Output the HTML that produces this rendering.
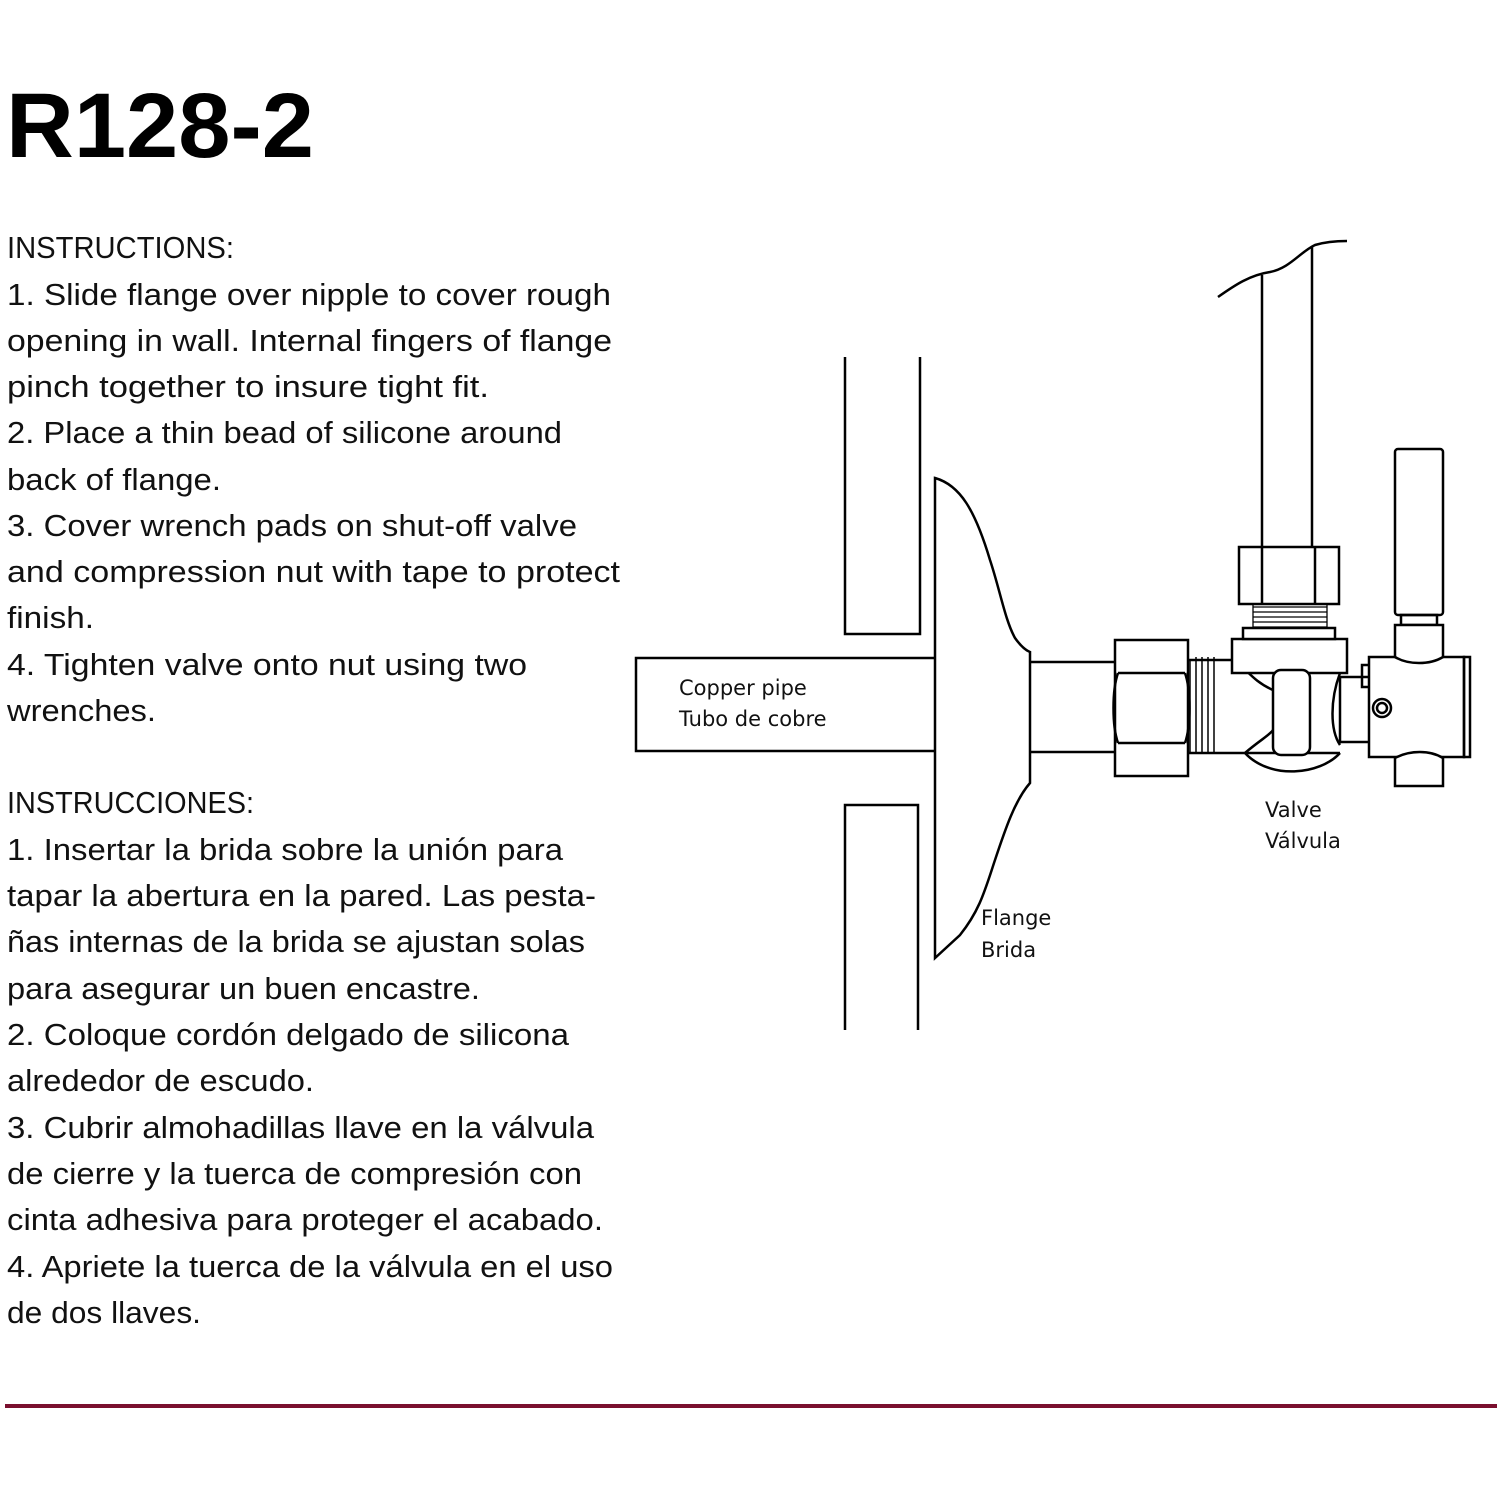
<!DOCTYPE html>
<html><head><meta charset="utf-8"><style>
html,body{margin:0;padding:0;background:#fff}
svg{display:block}
</style></head><body>
<svg width="1500" height="1500" viewBox="0 0 1500 1500" xmlns="http://www.w3.org/2000/svg">
<rect width="1500" height="1500" fill="#fff"/>
<text x="6" y="157" font-family="Liberation Sans, sans-serif" font-weight="bold" font-size="92" textLength="308" lengthAdjust="spacingAndGlyphs" fill="#000">R128-2</text>
<g font-family="Liberation Sans, sans-serif" font-size="31" fill="#111" lengthAdjust="spacingAndGlyphs">
<text x="7" y="258" textLength="227" lengthAdjust="spacingAndGlyphs">INSTRUCTIONS:</text>
<text x="7" y="305" textLength="604" lengthAdjust="spacingAndGlyphs">1. Slide flange over nipple to cover rough</text>
<text x="7" y="351" textLength="605" lengthAdjust="spacingAndGlyphs">opening in wall. Internal fingers of flange</text>
<text x="7" y="397" textLength="482" lengthAdjust="spacingAndGlyphs">pinch together to insure tight fit.</text>
<text x="7" y="443" textLength="555" lengthAdjust="spacingAndGlyphs">2. Place a thin bead of silicone around</text>
<text x="7" y="490" textLength="214" lengthAdjust="spacingAndGlyphs">back of flange.</text>
<text x="7" y="536" textLength="570" lengthAdjust="spacingAndGlyphs">3. Cover wrench pads on shut-off valve</text>
<text x="7" y="582" textLength="613" lengthAdjust="spacingAndGlyphs">and compression nut with tape to protect</text>
<text x="7" y="628" textLength="87" lengthAdjust="spacingAndGlyphs">finish.</text>
<text x="7" y="675" textLength="520" lengthAdjust="spacingAndGlyphs">4. Tighten valve onto nut using two</text>
<text x="7" y="721" textLength="149" lengthAdjust="spacingAndGlyphs">wrenches.</text>
<text x="7" y="813" textLength="247" lengthAdjust="spacingAndGlyphs">INSTRUCCIONES:</text>
<text x="7" y="860" textLength="556" lengthAdjust="spacingAndGlyphs">1. Insertar la brida sobre la unión para</text>
<text x="7" y="906" textLength="589" lengthAdjust="spacingAndGlyphs">tapar la abertura en la pared.  Las pesta-</text>
<text x="7" y="952" textLength="578" lengthAdjust="spacingAndGlyphs">ñas internas de la brida se ajustan solas</text>
<text x="7" y="999" textLength="473" lengthAdjust="spacingAndGlyphs">para asegurar un buen encastre.</text>
<text x="7" y="1045" textLength="562" lengthAdjust="spacingAndGlyphs">2. Coloque cordón delgado de silicona</text>
<text x="7" y="1091" textLength="307" lengthAdjust="spacingAndGlyphs">alrededor de escudo.</text>
<text x="7" y="1138" textLength="587" lengthAdjust="spacingAndGlyphs">3. Cubrir almohadillas llave en la válvula</text>
<text x="7" y="1184" textLength="575" lengthAdjust="spacingAndGlyphs">de cierre y la tuerca de compresión con</text>
<text x="7" y="1230" textLength="596" lengthAdjust="spacingAndGlyphs">cinta adhesiva para proteger el acabado.</text>
<text x="7" y="1277" textLength="606" lengthAdjust="spacingAndGlyphs">4. Apriete la tuerca de la válvula en el uso</text>
<text x="7" y="1323" textLength="194" lengthAdjust="spacingAndGlyphs">de dos llaves.</text>
</g>
<rect x="5" y="1404" width="1492" height="4" fill="#7a0f2e"/>
<g fill="none" stroke="#000" stroke-width="2.5">
<!-- walls -->
<polyline points="845,357 845,634 920,634 920,357"/>
<polyline points="845,1030 845,805 918,805 918,1030"/>
<!-- pipe -->
<polyline points="935,658 636,658 636,751 935,751"/>
<!-- flange -->
<path d="M935,958 L935,478 C960,485 975,510 990,560 C1000,590 1005,620 1015,638 C1020,645 1025,650 1030,652 L1030,783 C1015,800 1005,830 995,860 C985,890 980,910 960,935 Z" fill="#fff"/>
<!-- short pipe -->
<line x1="1030" y1="662" x2="1115" y2="662"/>
<line x1="1030" y1="752" x2="1115" y2="752"/>
<!-- nut -->
<rect x="1115" y="640" width="73" height="136" fill="#fff"/>
<path d="M1118,673 L1185,673 M1118,743 L1185,743 M1118,673 C1112,690 1112,726 1118,743 M1185,673 C1191,690 1191,726 1185,743"/>
<!-- threads -->
<path d="M1190,660 L1190,754 M1196,657 L1196,754 M1202,657 L1202,754 M1208,657 L1208,754 M1214,657 L1214,754" stroke-width="1.5"/>
<line x1="1188" y1="660" x2="1232" y2="660"/>
<line x1="1188" y1="753" x2="1340" y2="753"/>
<!-- body curves -->
<path d="M1232,660 C1245,665 1250,680 1273,690"/>
<path d="M1245,753 C1260,740 1270,735 1273,730"/>
<path d="M1245,753 C1270,780 1320,775 1340,753"/>
<path d="M1340,673 C1330,700 1330,730 1340,745"/>
<!-- bonnet -->
<rect x="1232" y="639" width="115" height="34" fill="#fff"/>
<rect x="1243" y="628" width="92" height="11" fill="#fff"/>
<path d="M1253,607 L1327,607 M1253,612 L1327,612 M1253,617 L1327,617 M1253,622 L1327,622 M1253,627 L1327,627" stroke-width="1.3"/>
<line x1="1253" y1="604" x2="1253" y2="628" stroke-width="1.3"/>
<line x1="1327" y1="604" x2="1327" y2="628" stroke-width="1.3"/>
<!-- upper nut -->
<rect x="1239" y="547" width="100" height="57" fill="#fff"/>
<line x1="1262" y1="547" x2="1262" y2="604"/>
<line x1="1315" y1="547" x2="1315" y2="604"/>
<!-- vertical pipe -->
<line x1="1262" y1="547" x2="1262" y2="275"/>
<line x1="1312" y1="547" x2="1312" y2="247"/>
<path d="M1218,297 C1235,285 1250,275 1270,272 C1290,268 1300,252 1315,245 C1325,242 1335,241 1347,241"/>
<!-- stem block -->
<rect x="1273" y="670" width="37" height="85" rx="8" fill="#fff"/>
<!-- outlet -->
<rect x="1340" y="677" width="30" height="65"/>
<rect x="1362" y="665" width="8" height="22"/>
<!-- right block -->
<rect x="1369" y="657" width="95" height="100" fill="#fff"/>
<rect x="1464" y="657" width="6" height="100"/>
<circle cx="1382" cy="708" r="9"/>
<circle cx="1382" cy="708" r="5"/>
<!-- handle -->
<rect x="1395" y="449" width="48" height="166" rx="3" fill="#fff"/>
<rect x="1401" y="615" width="36" height="10"/>
<path d="M1395,625 L1443,625 L1443,657 C1430,665 1408,665 1395,657 Z" fill="#fff"/>
<path d="M1395,758 C1410,750 1430,750 1443,758 L1443,786 L1395,786 Z" fill="#fff"/>
</g>
<g font-family="DejaVu Sans, sans-serif" font-size="21" fill="#111">
<text x="679" y="695">Copper pipe</text>
<text x="679" y="726">Tubo de cobre</text>
<text x="1265" y="817">Valve</text>
<text x="1265" y="848">Válvula</text>
<text x="981" y="925">Flange</text>
<text x="981" y="957">Brida</text>
</g>
</svg>
</body></html>
